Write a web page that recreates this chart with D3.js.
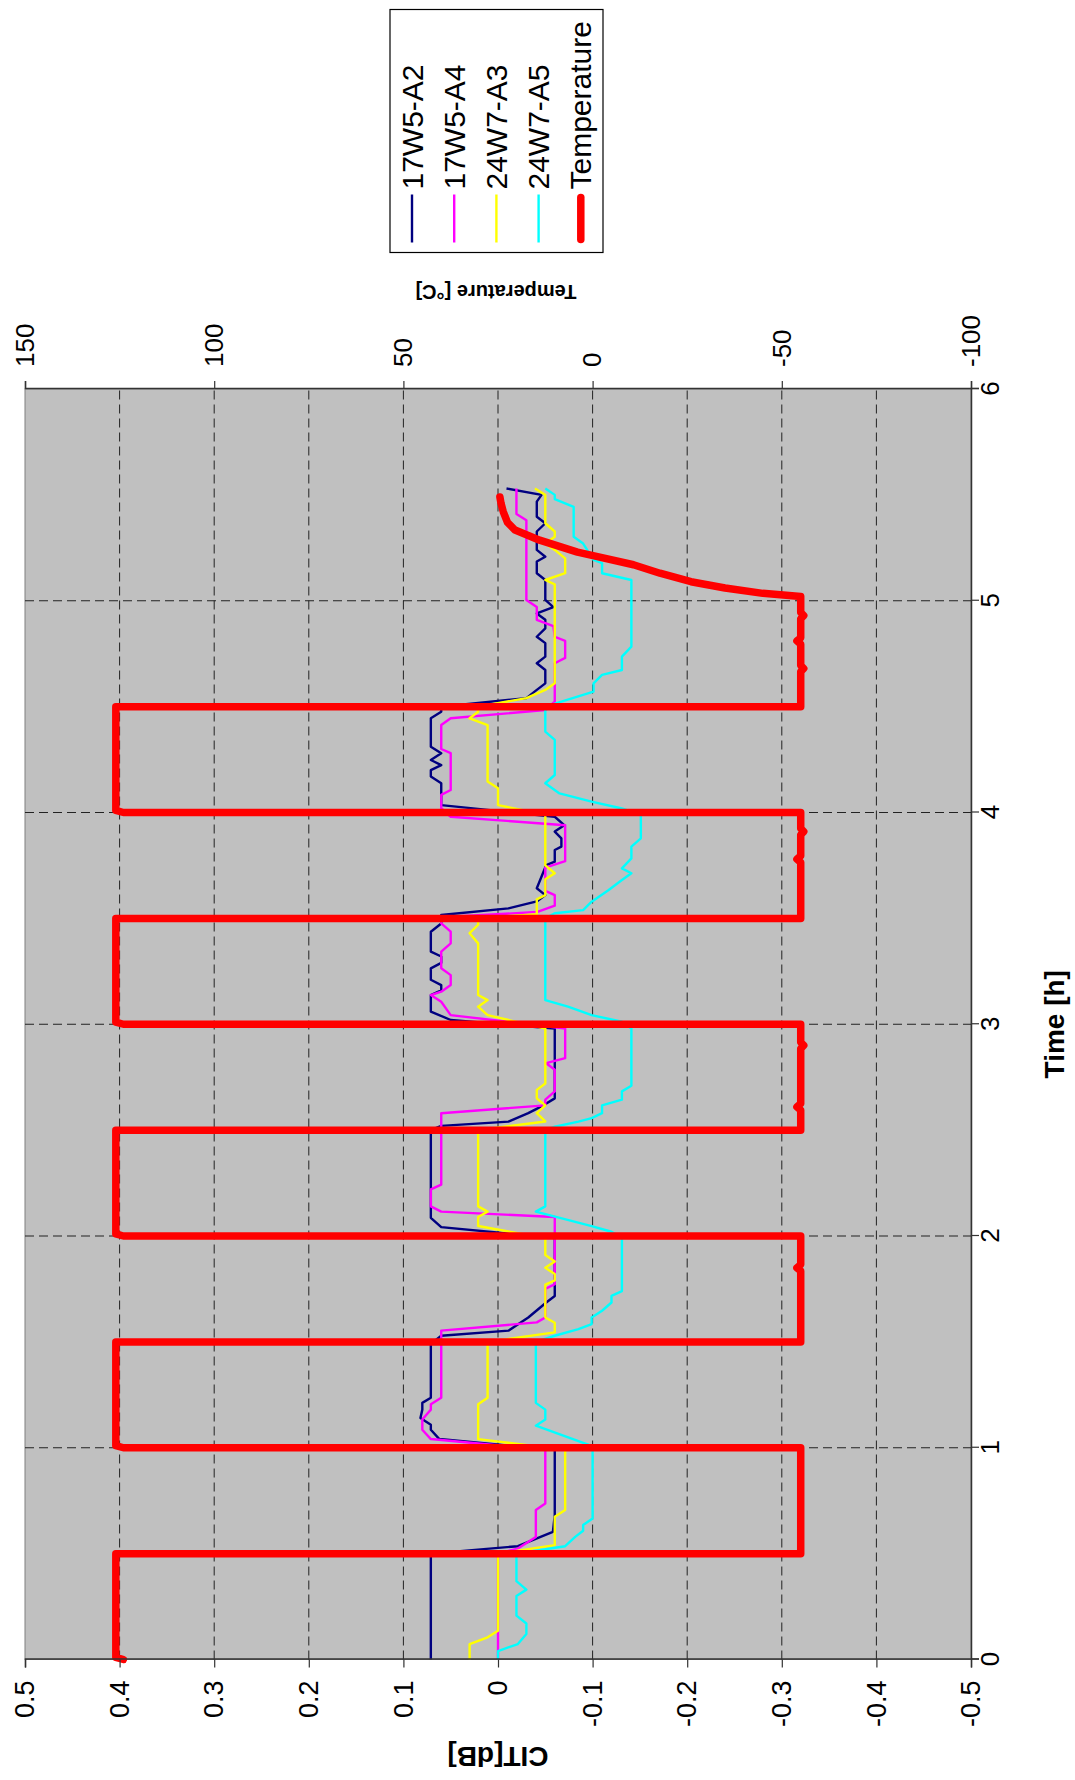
<!DOCTYPE html>
<html>
<head>
<meta charset="utf-8">
<script src="https://cdn.jsdelivr.net/npm/d3@7"></script>
<style>
  body { margin: 0; background: #ffffff; }
  text { font-family: "Liberation Sans", Arial, sans-serif; }
</style>
</head>
<body>
<div id="canvas"></div>
<script>
// Ticks

let timeTicks = [0, 1, 2, 3, 4, 5, 6];
let citTicks = [-0.5, -0.4, -0.3, -0.2, -0.1, 0, 0.1, 0.2, 0.3, 0.4, 0.5];
let tempTicks = [-100, -50, 0, 50, 100, 150];

// Series: [time h, CIT dB]

let seriesNames = ["17W5-A2", "17W5-A4", "24W7-A3", "24W7-A5"];
let seriesColors = ["#000080", "#ff00ff", "#ffff00", "#00ffff"];

let cit17W5A2 = [[0,0.071],[0.5,0.071],[0.535,-0.021],[0.603,-0.058],[0.682,-0.060],[0.99,-0.060],
  [1.041,0.062],[1.085,0.071],[1.109,0.071],[1.141,0.082],[1.18,0.080],[1.212,0.080],[1.236,0.071],[1.49,0.071],
  [1.529,0.060],[1.553,-0.011],[1.615,-0.032],[1.686,-0.051],[1.717,-0.060],[1.99,-0.060],
  [2.042,0.060],[2.086,0.071],[2.5,0.071],[2.52,0.060],[2.54,-0.011],[2.58,-0.032],[2.617,-0.048],[2.65,-0.060],[2.98,-0.060],
  [3.02,0.050],[3.06,0.071],[3.138,0.071],[3.16,0.060],[3.185,0.060],[3.21,0.071],[3.264,0.071],[3.29,0.060],[3.32,0.060],[3.343,0.071],[3.437,0.071],[3.476,0.060],[3.516,0.060],
  [3.547,-0.011],[3.58,-0.041],[3.61,-0.050],[3.642,-0.041],[3.752,-0.051],[3.768,-0.060],[3.823,-0.060],[3.839,-0.067],[3.878,-0.067],[3.91,-0.060],[3.94,-0.070],[3.98,-0.060],
  [4.035,0.060],[4.138,0.060],[4.17,0.071],[4.2,0.071],[4.224,0.060],[4.248,0.071],[4.28,0.060],[4.311,0.071],[4.445,0.071],[4.476,0.060],[4.5,0.060],
  [4.54,-0.030],[4.579,-0.041],[4.61,-0.050],[4.673,-0.050],[4.705,-0.041],[4.736,-0.050],[4.80,-0.050],[4.83,-0.041],[4.87,-0.050],[4.91,-0.050],[4.94,-0.041],[4.97,-0.0585],[5.004,-0.050],[5.098,-0.050],[5.13,-0.041],[5.185,-0.041],[5.208,-0.050],[5.24,-0.041],[5.327,-0.041],[5.366,-0.050],[5.397,-0.041],[5.468,-0.041],[5.5,-0.046],[5.53,-0.009]];

let cit17W5A4 = [[0,0.0],[0.5,0.0],[0.524,-0.021],[0.579,-0.040],[0.706,-0.040],[0.737,-0.050],[0.99,-0.050],
  [1.041,0.071],[1.085,0.080],[1.133,0.080],[1.18,0.071],[1.205,0.071],[1.236,0.060],[1.553,0.060],
  [1.592,-0.041],[1.615,-0.050],[1.75,-0.050],[1.772,-0.060],[2.09,-0.060],
  [2.115,0.060],[2.14,0.071],[2.22,0.071],[2.243,0.060],[2.58,0.060],
  [2.617,-0.050],[2.644,-0.050],[2.683,-0.060],[2.785,-0.060],[2.816,-0.051],[2.84,-0.071],[2.98,-0.071],
  [3.043,0.050],[3.106,0.060],[3.138,0.071],[3.154,0.060],[3.185,0.050],[3.232,0.050],[3.264,0.060],[3.343,0.060],[3.382,0.050],[3.437,0.050],[3.476,0.060],[3.5,0.060],[3.508,0.050],
  [3.53,-0.041],[3.56,-0.060],[3.61,-0.060],[3.63,-0.050],[3.74,-0.050],[3.77,-0.071],[3.94,-0.071],
  [3.98,0.050],[4.02,0.060],[4.083,0.060],[4.106,0.050],[4.28,0.050],[4.30,0.060],[4.413,0.060],[4.445,0.050],
  [4.484,-0.050],[4.524,-0.060],[4.705,-0.060],[4.73,-0.071],[4.81,-0.071],[4.83,-0.060],[4.88,-0.0585],[4.91,-0.041],[4.97,-0.041],[5.004,-0.030],[5.38,-0.030],[5.41,-0.0195],[5.53,-0.0195]];

let cit24W7A3 = [[0,0.030],[0.073,0.030],[0.105,0.011],[0.136,0.0],[0.5,0.0],[0.54,-0.060],[0.674,-0.060],[0.706,-0.071],[0.99,-0.071],
  [1.041,0.021],[1.205,0.021],[1.236,0.011],[1.5,0.011],
  [1.545,-0.060],[1.59,-0.060],[1.615,-0.050],[1.77,-0.050],[1.79,-0.060],[1.82,-0.060],[1.85,-0.050],[1.88,-0.060],[1.91,-0.050],[1.99,-0.050],
  [2.047,0.021],[2.09,0.021],[2.115,0.011],[2.14,0.021],[2.5,0.021],
  [2.541,-0.050],[2.58,-0.041],[2.617,-0.050],[2.65,-0.041],[2.69,-0.041],[2.72,-0.050],[2.98,-0.050],
  [3.043,0.011],[3.083,0.021],[3.114,0.011],[3.138,0.021],[3.382,0.021],[3.43,0.030],[3.47,0.021],[3.5,0.021],
  [3.52,-0.041],[3.59,-0.041],[3.61,-0.050],[3.685,-0.050],[3.713,-0.060],[3.75,-0.050],[3.99,-0.050],
  [4.035,0.0],[4.114,0.0],[4.146,0.011],[4.413,0.011],[4.445,0.030],[4.476,0.021],[4.5,0.021],
  [4.54,-0.030],[4.579,-0.050],[4.61,-0.060],[5.077,-0.060],[5.098,-0.050],[5.13,-0.071],[5.2,-0.071],[5.24,-0.060],[5.27,-0.050],[5.302,-0.060],[5.327,-0.060],[5.366,-0.050],[5.5,-0.050],[5.53,-0.039]];

let cit24W7A5 = [[0,0.0],[0.04,0.0],[0.073,-0.021],[0.12,-0.030],[0.17,-0.030],[0.207,-0.0195],[0.30,-0.0195],[0.33,-0.030],[0.37,-0.0195],[0.5,-0.0195],
  [0.535,-0.071],[0.579,-0.0816],[0.608,-0.090],[0.635,-0.090],[0.666,-0.100],[0.99,-0.100],
  [1.014,-0.096],[1.104,-0.040],[1.133,-0.050],[1.18,-0.050],[1.212,-0.040],[1.5,-0.040],
  [1.529,-0.060],[1.56,-0.085],[1.584,-0.099],[1.615,-0.099],[1.647,-0.110],[1.686,-0.120],[1.717,-0.120],[1.74,-0.131],[1.99,-0.131],
  [2.02,-0.120],[2.047,-0.099],[2.115,-0.040],[2.14,-0.050],[2.5,-0.050],
  [2.516,-0.060],[2.54,-0.085],[2.557,-0.099],[2.58,-0.110],[2.617,-0.110],[2.644,-0.131],[2.683,-0.131],[2.71,-0.141],[2.98,-0.141],
  [3.012,-0.131],[3.043,-0.099],[3.083,-0.074],[3.114,-0.050],[3.5,-0.050],
  [3.524,-0.060],[3.539,-0.090],[3.579,-0.099],[3.634,-0.117],[3.681,-0.131],[3.713,-0.141],[3.736,-0.131],[3.783,-0.141],[3.839,-0.141],[3.878,-0.151],[3.99,-0.151],
  [4.02,-0.130],[4.05,-0.100],[4.09,-0.065],[4.138,-0.050],[4.177,-0.060],[4.343,-0.060],[4.382,-0.050],[4.5,-0.050],
  [4.524,-0.067],[4.571,-0.101],[4.61,-0.101],[4.65,-0.110],[4.673,-0.131],[4.736,-0.131],[4.783,-0.141],[5.098,-0.141],[5.13,-0.110],[5.178,-0.110],[5.193,-0.101],[5.27,-0.090],[5.302,-0.080],[5.443,-0.080],[5.48,-0.060],[5.5,-0.060],[5.53,-0.050]];

// Temperature: [time h, deg C]

let temperature = [[0,124],[0.01,126],[0.5,126],[0.5,-55],[1.0,-55],
  [1.0,124],[1.01,126],[1.5,126],[1.5,-55],[1.835,-55],[1.85,-54],[1.865,-55],[2.0,-55],
  [2.0,124],[2.01,126],[2.5,126],[2.5,-55],[2.595,-55],[2.61,-54],[2.625,-55],[2.885,-55],[2.9,-55.8],[2.915,-55],[3.0,-55],
  [3.0,124],[3.01,126],[3.5,126],[3.5,-55],[3.765,-55],[3.78,-54],[3.795,-55],[3.895,-55],[3.91,-55.8],[3.925,-55],[4.0,-55],
  [4.0,124],[4.01,126],[4.5,126],[4.5,-55],[4.665,-55],[4.68,-55.8],[4.695,-55],[4.795,-55],[4.81,-54],[4.825,-55],[4.915,-55],[4.93,-55.8],[4.945,-55],[5.02,-55],
  [5.035,-45],[5.06,-35],[5.09,-26],[5.13,-17.8],[5.17,-10.8],[5.21,-1],[5.23,4],[5.286,14],[5.334,20.5],[5.37,22.5],[5.42,23.6],[5.46,24.2],[5.49,24.5]];

let allSeries = [cit17W5A2, cit17W5A4, cit24W7A3, cit24W7A5];

// Dimensions (the chart is drawn upright, then turned a quarter turn)

let s = {w: 1075, h: 1780};
let plot = {left: 25, bottom: 1659.5, len: 1270.5, depth: 946};
let font = "'Liberation Sans', Arial, sans-serif";

let svg = d3.select("#canvas")
    .append("svg")
    .attr("width", s.w)
    .attr("height", s.h)
    .style("background-color", "#ffffff");

let g = svg.append("g")
    .attr("transform", "translate(" + plot.left + ", " + plot.bottom + ") rotate(-90)");

// Scales

let xScale = d3.scaleLinear().domain([0, 6]).range([0, plot.len]);
let yScale = d3.scaleLinear().domain([-0.5, 0.5]).range([plot.depth, 0]);
let tScale = d3.scaleLinear().domain([-100, 150]).range([plot.depth, 0]);

// Plot area

g.append("rect")
    .attr("width", plot.len)
    .attr("height", plot.depth)
    .style("fill", "#c0c0c0")
    .style("stroke", "#808080")
    .style("stroke-width", 1);

// Grid

g.append("g").selectAll("line")
    .data(citTicks.slice(1, -1))
    .enter().append("line")
    .attr("x1", 0).attr("x2", plot.len)
    .attr("y1", (d) => yScale(d)).attr("y2", (d) => yScale(d))
    .style("stroke", "#222").style("stroke-width", 1).style("stroke-dasharray", "9,5");

g.append("g").selectAll("line")
    .data(timeTicks.slice(1, -1))
    .enter().append("line")
    .attr("y1", 0).attr("y2", plot.depth)
    .attr("x1", (d) => xScale(d)).attr("x2", (d) => xScale(d))
    .style("stroke", "#222").style("stroke-width", 1).style("stroke-dasharray", "9,5");

// Series

let citLine = d3.line()
    .x((d) => xScale(d[0]))
    .y((d) => yScale(d[1]));

allSeries.forEach((data, i) => {
    g.append("path")
        .datum(data)
        .style("fill", "none")
        .style("stroke", seriesColors[i])
        .style("stroke-width", 2.4)
        .style("stroke-linejoin", "round")
        .attr("d", citLine);
});

g.append("path")
    .datum(temperature)
    .style("fill", "none")
    .style("stroke", "#ff0000")
    .style("stroke-width", 7.5)
    .style("stroke-linecap", "round")
    .style("stroke-linejoin", "round")
    .attr("d", d3.line()
        .x((d) => xScale(d[0]))
        .y((d) => tScale(d[1]))
    );

// Axes

let fmt = (d) => String(+d.toFixed(1));

function styleAxis(sel, size) {
    sel.attr("font-size", size).attr("font-family", font);
    sel.select(".domain").style("stroke", "#333").style("stroke-width", 1.5);
    sel.selectAll(".tick line").style("stroke", "#333").style("stroke-width", 1.2);
    sel.selectAll(".tick text").style("fill", "#000");
}

g.append("g")
    .call(d3.axisLeft(yScale).tickValues(citTicks).tickSize(8).tickPadding(13).tickFormat(fmt))
    .call(styleAxis, 27);

g.append("g")
    .attr("transform", "translate(0, " + plot.depth + ")")
    .call(d3.axisBottom(xScale).tickValues(timeTicks).tickSize(8).tickPadding(2).tickFormat(fmt))
    .call(styleAxis, 26);

g.append("g")
    .attr("transform", "translate(" + plot.len + ", 0)")
    .call(d3.axisRight(tScale).tickValues(tempTicks).tickSize(8).tickPadding(14).tickFormat(fmt))
    .call(styleAxis, 26);

// Titles

g.append("text")
    .attr("x", plot.len / 2)
    .attr("y", plot.depth + 93)
    .style("font-size", 28)
    .style("font-weight", 700)
    .style("text-anchor", "middle")
    .text("Time [h]");

g.append("text")
    .attr("transform", "translate(-87, " + (plot.depth / 2) + ") rotate(-90)")
    .style("font-size", 28)
    .style("font-weight", 700)
    .style("text-anchor", "middle")
    .text("CIT[dB]");

g.append("text")
    .attr("transform", "translate(" + (plot.len + 104) + ", " + (plot.depth / 2 - 2) + ") rotate(-90)")
    .style("font-size", 20)
    .style("font-weight", 700)
    .style("text-anchor", "middle")
    .text("Temperature [°C]");

// Legend

let legendNames = seriesNames.concat(["Temperature"]);
let legendColors = seriesColors.concat(["#ff0000"]);
let legend = g.append("g").attr("transform", "translate(1407, 365)");

legend.append("rect")
    .attr("width", 243)
    .attr("height", 213)
    .style("fill", "#ffffff")
    .style("stroke", "#000")
    .style("stroke-width", 1.2);

legendNames.forEach((name, i) => {
    let y = 22 + i * 42.2;
    legend.append("line")
        .attr("x1", i === 4 ? 13 : 10).attr("x2", i === 4 ? 55 : 58)
        .attr("y1", y).attr("y2", y)
        .style("stroke", legendColors[i])
        .style("stroke-width", i === 4 ? 7.5 : 2.4)
        .style("stroke-linecap", i === 4 ? "round" : "butt");
    legend.append("text")
        .attr("x", 63)
        .attr("y", y)
        .attr("dy", "0.35em")
        .style("font-size", 30)
        .text(name);
});
</script>
</body>
</html>
